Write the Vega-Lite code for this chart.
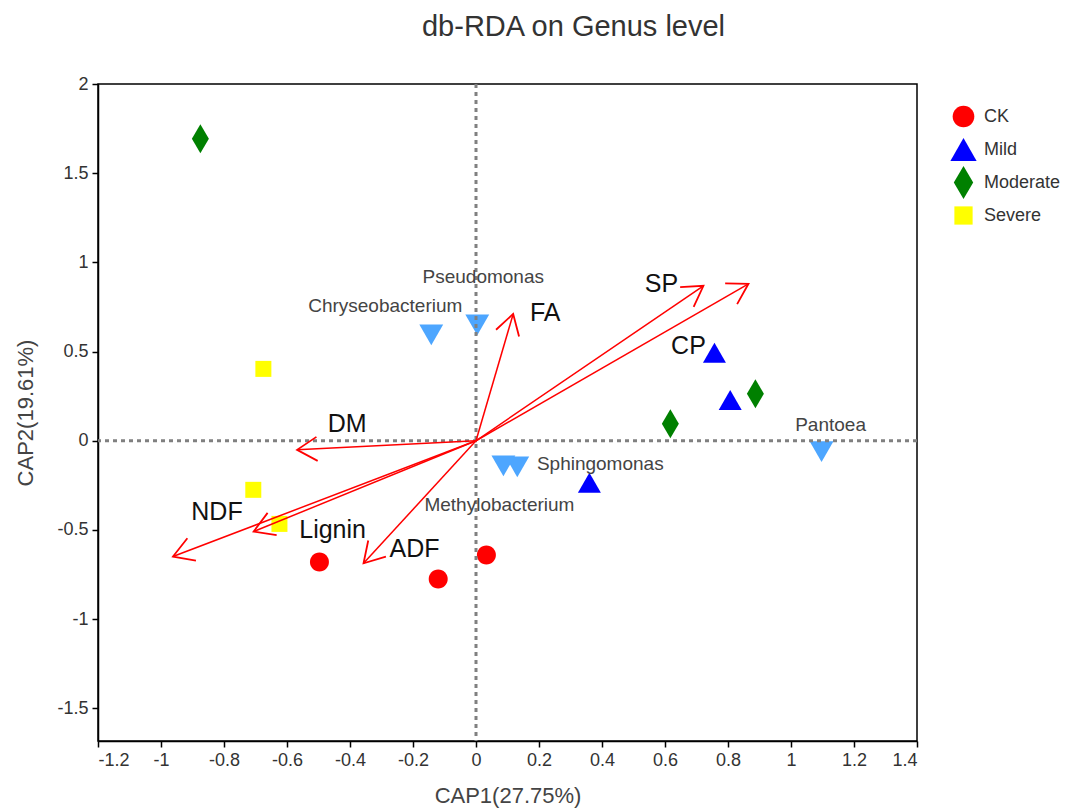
{
  "$schema": "https://vega.github.io/schema/vega-lite/v6.json",
  "width": 819,
  "height": 657,
  "autosize": "none",
  "padding": {"left": 98, "top": 84, "right": 152, "bottom": 68},
  "background": "white",
  "config": {
    "font": "Liberation Sans",
    "view": {"stroke": "black", "strokeWidth": 1.5},
    "axis": {
      "grid": false,
      "domainColor": "black",
      "domainWidth": 1.5,
      "tickColor": "black",
      "tickWidth": 1.5,
      "tickSize": 6,
      "labelFontSize": 18,
      "labelColor": "#333333",
      "labelPadding": 4,
      "titleFontSize": 22,
      "titleColor": "#444444",
      "titleFontWeight": "normal"
    },
    "legend": {
      "labelFontSize": 18,
      "labelColor": "#333333",
      "symbolSize": 520,
      "symbolStrokeWidth": 0
    }
  },
  "title": {
    "text": "db-RDA on Genus level",
    "fontSize": 29,
    "fontWeight": "normal",
    "color": "#333333",
    "anchor": "middle",
    "dx": 66,
    "offset": 33
  },
  "datasets": {
    "samples": [
      {"group": "CK", "x": -0.497, "y": -0.679},
      {"group": "CK", "x": -0.120, "y": -0.775},
      {"group": "CK", "x": 0.033, "y": -0.640},
      {"group": "Mild", "x": 0.757, "y": 0.493},
      {"group": "Mild", "x": 0.807, "y": 0.229},
      {"group": "Mild", "x": 0.360, "y": -0.236},
      {"group": "Moderate", "x": -0.875, "y": 1.693},
      {"group": "Moderate", "x": 0.887, "y": 0.263},
      {"group": "Moderate", "x": 0.617, "y": 0.095},
      {"group": "Severe", "x": -0.675, "y": 0.403},
      {"group": "Severe", "x": -0.707, "y": -0.275},
      {"group": "Severe", "x": -0.624, "y": -0.466}
    ],
    "species": [
      {"name": "Chryseobacterium", "x": -0.142, "y": 0.594},
      {"name": "Pseudomonas", "x": 0.004, "y": 0.650},
      {"name": "Sphingomonas", "x": 0.131, "y": -0.146},
      {"name": "Methylobacterium", "x": 0.087, "y": -0.141},
      {"name": "Pantoea", "x": 1.097, "y": -0.061}
    ],
    "arrows": [
      {"name": "SP", "x": 0.722, "y": 0.869},
      {"name": "CP", "x": 0.865, "y": 0.880},
      {"name": "FA", "x": 0.118, "y": 0.711},
      {"name": "DM", "x": -0.568, "y": -0.051},
      {"name": "NDF", "x": -0.962, "y": -0.649},
      {"name": "Lignin", "x": -0.706, "y": -0.509},
      {"name": "ADF", "x": -0.357, "y": -0.687}
    ],
    "origin": [{"x": 0, "y": 0}]
  },
  "layer": [
    {
      "data": {"name": "samples"},
      "mark": {"type": "point", "filled": true, "opacity": 1, "strokeWidth": 0, "size": 400},
      "encoding": {
        "x": {
          "field": "x", "type": "quantitative",
          "scale": {"domain": [-1.2, 1.4], "nice": false, "zero": false},
          "axis": {
            "title": "CAP1(27.75%)",
            "values": [-1.2, -1, -0.8, -0.6, -0.4, -0.2, 0, 0.2, 0.4, 0.6, 0.8, 1, 1.2, 1.4],
            "labelExpr": "'' + datum.value",
            "titlePadding": 16
          }
        },
        "y": {
          "field": "y", "type": "quantitative",
          "scale": {"domain": [-1.683, 2], "nice": false, "zero": false},
          "axis": {
            "title": "CAP2(19.61%)",
            "values": [-1.5, -1, -0.5, 0, 0.5, 1, 1.5, 2],
            "labelExpr": "'' + datum.value",
            "titlePadding": 19
          }
        },
        "color": {
          "field": "group", "type": "nominal",
          "scale": {"domain": ["CK", "Mild", "Moderate", "Severe"], "range": ["#ff0000", "#0000ff", "#008000", "#ffff00"]},
          "legend": {"title": null, "orient": "none", "legendX": 854, "legendY": 21, "padding": 0, "rowPadding": -2, "labelOffset": 9, "gridAlign": "all"}
        },
        "shape": {
          "field": "group", "type": "nominal",
          "scale": {
            "domain": ["CK", "Mild", "Moderate", "Severe"],
            "range": [
              "M-0.95,0A0.95,0.95,0,1,0,0.95,0A0.95,0.95,0,1,0,-0.95,0Z",
              "M0,-1L1.15,1L-1.15,1Z",
              "M0,-1.45L0.85,0L0,1.45L-0.85,0Z",
              "M-0.8,-0.8L0.8,-0.8L0.8,0.8L-0.8,0.8Z"
            ]
          },
          "legend": {"title": null, "orient": "none", "legendX": 854, "legendY": 21, "padding": 0, "rowPadding": -2, "labelOffset": 9, "gridAlign": "all"}
        }
      }
    },
    {
      "data": {"name": "species"},
      "mark": {"type": "point", "filled": true, "shape": "triangle-down", "size": 570, "color": "#4da6ff", "opacity": 1, "strokeWidth": 0},
      "encoding": {
        "x": {"field": "x", "type": "quantitative"},
        "y": {"field": "y", "type": "quantitative"}
      }
    },
    {
      "data": {"name": "origin"},
      "mark": {"type": "rule", "color": "#808080", "strokeWidth": 3, "strokeDash": [4, 4]},
      "encoding": {"y": {"field": "y", "type": "quantitative"}}
    },
    {
      "data": {"name": "origin"},
      "mark": {"type": "rule", "color": "#808080", "strokeWidth": 3, "strokeDash": [4, 4]},
      "encoding": {"x": {"field": "x", "type": "quantitative"}}
    },
    {
      "data": {"name": "arrows"},
      "mark": {"type": "rule", "color": "#ff0000", "strokeWidth": 1.5},
      "encoding": {
        "x": {"field": "x", "type": "quantitative"},
        "y": {"field": "y", "type": "quantitative"},
        "x2": {"datum": 0},
        "y2": {"datum": 0}
      }
    },
    {
      "data": {"name": "arrows"},
      "transform": [{"calculate": "atan2(datum.x * 315, datum.y * 178.3) * 180 / PI", "as": "ang"}],
      "mark": {"type": "point", "filled": false, "shape": "M-0.6,1L0,0L0.6,1", "size": 1600, "color": "#ff0000", "strokeWidth": 1.8, "opacity": 1},
      "encoding": {
        "x": {"field": "x", "type": "quantitative"},
        "y": {"field": "y", "type": "quantitative"},
        "angle": {"field": "ang", "type": "quantitative", "scale": null}
      }
    },
    {
      "data": {"name": "arrows"},
      "mark": {
        "type": "text", "fontSize": 25, "color": "#111111", "align": "center", "baseline": "middle",
        "dx": {"expr": "({'SP': -42, 'CP': -60, 'FA': 32, 'DM': 50, 'NDF': 44, 'Lignin': 79, 'ADF': 51})[datum.name]"},
        "dy": {"expr": "({'SP': -2, 'CP': 62, 'FA': -1, 'DM': -26, 'NDF': -45, 'Lignin': -2, 'ADF': -14})[datum.name]"}
      },
      "encoding": {
        "x": {"field": "x", "type": "quantitative"},
        "y": {"field": "y", "type": "quantitative"},
        "text": {"field": "name", "type": "nominal"}
      }
    },
    {
      "data": {"name": "species"},
      "mark": {
        "type": "text", "fontSize": 19, "color": "#444444", "align": "center", "baseline": "middle",
        "dx": {"expr": "({'Chryseobacterium': -46, 'Pseudomonas': 6, 'Sphingomonas': 83, 'Methylobacterium': -4, 'Pantoea': 9})[datum.name]"},
        "dy": {"expr": "({'Chryseobacterium': -29, 'Pseudomonas': -48, 'Sphingomonas': -3, 'Methylobacterium': 39, 'Pantoea': -27})[datum.name]"}
      },
      "encoding": {
        "x": {"field": "x", "type": "quantitative"},
        "y": {"field": "y", "type": "quantitative"},
        "text": {"field": "name", "type": "nominal"}
      }
    }
  ]
}
